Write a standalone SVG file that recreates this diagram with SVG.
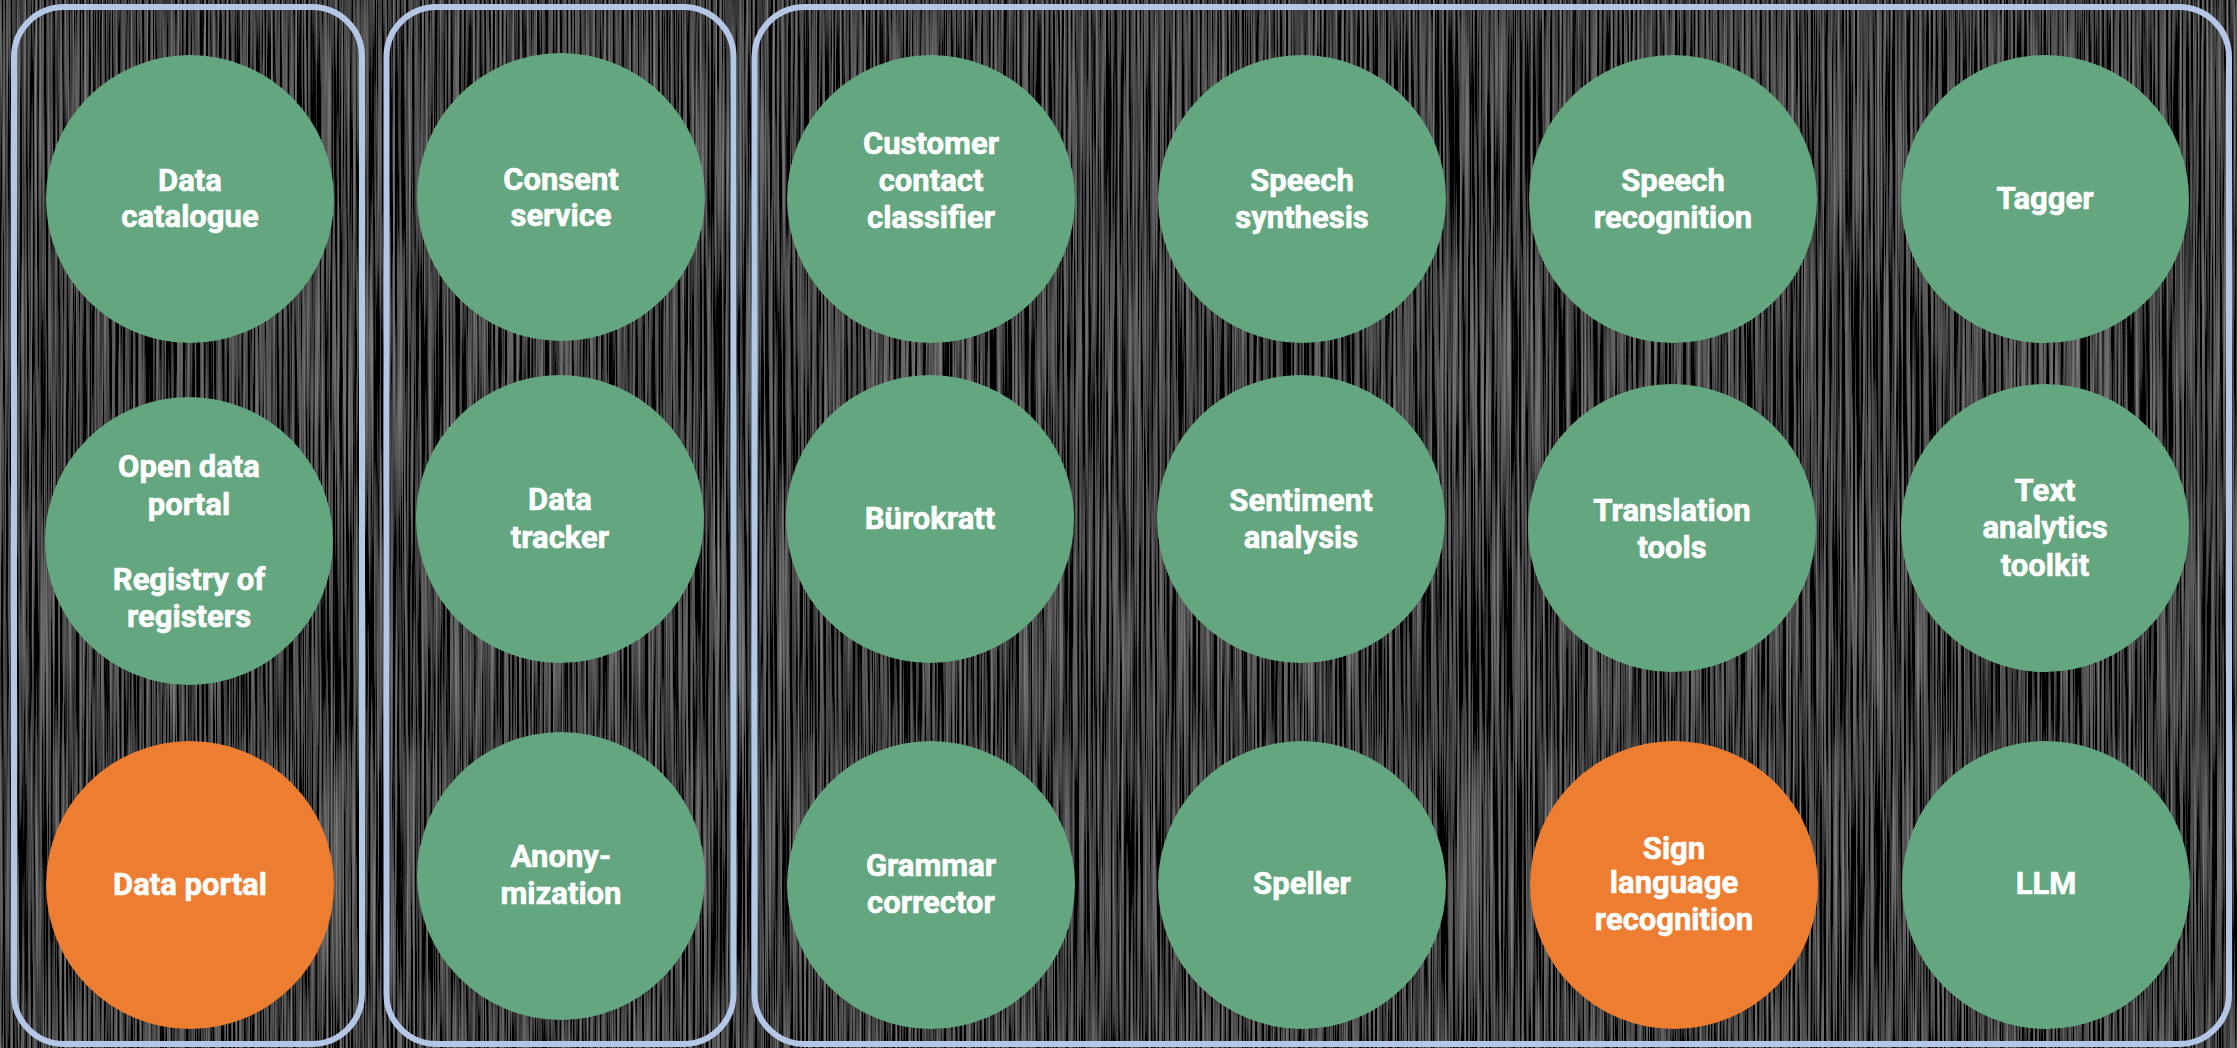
<svg xmlns="http://www.w3.org/2000/svg" width="2237" height="1048" viewBox="0 0 2237 1048">
  <defs>
    <filter id="brushed" x="0" y="0" width="100%" height="100%">
      <feTurbulence type="fractalNoise" baseFrequency="0.45 0.004" numOctaves="3" seed="7" result="n"/>
      <feColorMatrix type="matrix" values="0.48 0 0 0 -0.19  0.48 0 0 0 -0.19  0.48 0 0 0 -0.19  0 0 0 0 1"/>
    </filter>
  </defs>
  <style>
    .panel { fill: none; stroke: #B4C7E7; stroke-width: 6; }
    .green { fill: #63A67F; }
    .orange { fill: #ED7D31; }
    .lbl { font-family: Roboto, "Liberation Sans", sans-serif; font-weight: bold; font-size: 31px; fill: #FFFFFF; stroke: #FFFFFF; stroke-width: 0.6; text-anchor: middle; }
  </style>
  <rect x="0" y="0" width="2237" height="1048" fill="#060606"/>
  <rect x="0" y="0" width="2237" height="1048" filter="url(#brushed)"/>

  <g id="panels">
    <rect id="panel-data" class="panel" x="14" y="7" width="348" height="1037" rx="50" ry="50"/>
    <rect id="panel-privacy" class="panel" x="386.5" y="7" width="347" height="1037" rx="50" ry="50"/>
    <rect id="panel-language" class="panel" x="754.5" y="7" width="1474.5" height="1037" rx="50" ry="50"/>
  </g>

  <g id="connectors"></g>

  <g id="node-data-catalogue">
    <circle class="green" cx="190" cy="199" r="144"/>
    <text class="lbl" x="190" y="191">Data</text>
    <text class="lbl" x="190" y="227">catalogue</text>
  </g>
  <g id="node-open-data-portal">
    <circle class="green" cx="189" cy="541" r="144"/>
    <text class="lbl" x="189" y="477">Open data</text>
    <text class="lbl" x="189" y="515">portal</text>
    <text class="lbl" x="189" y="590">Registry of</text>
    <text class="lbl" x="189" y="627">registers</text>
  </g>
  <g id="node-data-portal">
    <circle class="orange" cx="190" cy="885" r="144"/>
    <text class="lbl" x="190" y="895">Data portal</text>
  </g>

  <g id="node-consent-service">
    <circle class="green" cx="561" cy="197" r="144"/>
    <text class="lbl" x="561" y="190">Consent</text>
    <text class="lbl" x="561" y="226">service</text>
  </g>
  <g id="node-data-tracker">
    <circle class="green" cx="560" cy="519" r="144"/>
    <text class="lbl" x="560" y="510">Data</text>
    <text class="lbl" x="560" y="548">tracker</text>
  </g>
  <g id="node-anonymization">
    <circle class="green" cx="561" cy="876" r="144"/>
    <text class="lbl" x="561" y="867">Anony-</text>
    <text class="lbl" x="561" y="904">mization</text>
  </g>

  <g id="node-customer-contact-classifier">
    <circle class="green" cx="931" cy="199" r="144"/>
    <text class="lbl" x="931" y="154">Customer</text>
    <text class="lbl" x="931" y="191">contact</text>
    <text class="lbl" x="931" y="228">classifier</text>
  </g>
  <g id="node-speech-synthesis">
    <circle class="green" cx="1302" cy="199" r="144"/>
    <text class="lbl" x="1302" y="191">Speech</text>
    <text class="lbl" x="1302" y="228">synthesis</text>
  </g>
  <g id="node-speech-recognition">
    <circle class="green" cx="1673" cy="199" r="144"/>
    <text class="lbl" x="1673" y="191">Speech</text>
    <text class="lbl" x="1673" y="228">recognition</text>
  </g>
  <g id="node-tagger">
    <circle class="green" cx="2045" cy="199" r="144"/>
    <text class="lbl" x="2045" y="209">Tagger</text>
  </g>

  <g id="node-burokratt">
    <circle class="green" cx="930" cy="519" r="144"/>
    <text class="lbl" x="930" y="529">Bürokratt</text>
  </g>
  <g id="node-sentiment-analysis">
    <circle class="green" cx="1301" cy="519" r="144"/>
    <text class="lbl" x="1301" y="511">Sentiment</text>
    <text class="lbl" x="1301" y="548">analysis</text>
  </g>
  <g id="node-translation-tools">
    <circle class="green" cx="1672" cy="528" r="144"/>
    <text class="lbl" x="1672" y="521">Translation</text>
    <text class="lbl" x="1672" y="558">tools</text>
  </g>
  <g id="node-text-analytics-toolkit">
    <circle class="green" cx="2045" cy="528" r="144"/>
    <text class="lbl" x="2045" y="501">Text</text>
    <text class="lbl" x="2045" y="538">analytics</text>
    <text class="lbl" x="2045" y="576">toolkit</text>
  </g>

  <g id="node-grammar-corrector">
    <circle class="green" cx="931" cy="885" r="144"/>
    <text class="lbl" x="931" y="876">Grammar</text>
    <text class="lbl" x="931" y="913">corrector</text>
  </g>
  <g id="node-speller">
    <circle class="green" cx="1302" cy="885" r="144"/>
    <text class="lbl" x="1302" y="894">Speller</text>
  </g>
  <g id="node-sign-language-recognition">
    <circle class="orange" cx="1674" cy="885" r="144"/>
    <text class="lbl" x="1674" y="859">Sign</text>
    <text class="lbl" x="1674" y="893">language</text>
    <text class="lbl" x="1674" y="930">recognition</text>
  </g>
  <g id="node-llm">
    <circle class="green" cx="2046" cy="885" r="144"/>
    <text class="lbl" x="2046" y="894">LLM</text>
  </g>
</svg>
